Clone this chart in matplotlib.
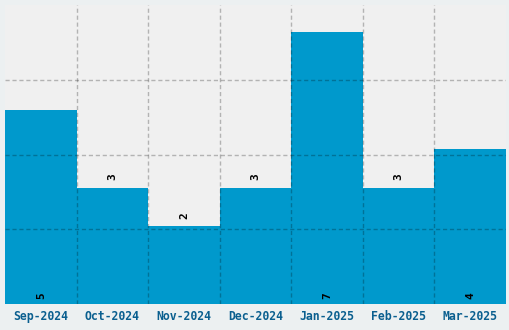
import matplotlib
matplotlib.use("Agg")
import matplotlib.pyplot as plt
import numpy as np

months = ["Sep-2024", "Oct-2024", "Nov-2024", "Dec-2024", "Jan-2025", "Feb-2025", "Mar-2025"]
counts = [5, 3, 2, 3, 7, 3, 4]

plt.rcParams["font.family"] = "DejaVu Sans Mono"

fig = plt.figure(figsize=(5.1, 3.3), dpi=100, facecolor="#ecf0f1")
ax = fig.add_axes([5 / 510, 26 / 330, 501 / 510, 299 / 330])
ax.set_facecolor("#f0f0f0")

x = np.arange(len(months))
ax.bar(x, counts, width=1.0, color="#0099cc", zorder=1)

ymax = max(counts) * 1.1
ax.set_xlim(-0.5, len(months) - 0.5)
ax.set_ylim(0, ymax)

# grid: vertical lines at bar edges, horizontal at quarters
ax.set_xticks(x)
ax.set_xticks(x[:-1] + 0.5, minor=True)
ax.set_yticks(np.linspace(0, ymax, 5)[1:-1])
ax.grid(which="minor", axis="x", color="black", alpha=0.25, linestyle=(0, (3, 2)), linewidth=1, zorder=3)
ax.grid(which="major", axis="y", color="black", alpha=0.25, linestyle=(0, (3, 2)), linewidth=1, zorder=3)
ax.set_axisbelow(False)
ax.tick_params(which="both", length=0)
ax.set_yticklabels([])
ax.set_xticklabels(months, fontsize=8.3, fontweight="bold", color="#0a5f8f")
ax.tick_params(axis="x", pad=4)
for s in ax.spines.values():
    s.set_visible(False)

# value labels: inside at bottom for tall bars, above bar for short ones
for xi, v in zip(x, counts):
    if v >= 4:
        ax.annotate(str(v), (xi, 0), xytext=(0, 6), textcoords="offset points",
                    rotation=90, ha="center", va="center", fontsize=8, fontweight="bold", color="black")
    else:
        ax.annotate(str(v), (xi, v), xytext=(0, 8), textcoords="offset points",
                    rotation=90, ha="center", va="center", fontsize=8, fontweight="bold", color="black")

fig.savefig("out.png", dpi=100, facecolor=fig.get_facecolor())
